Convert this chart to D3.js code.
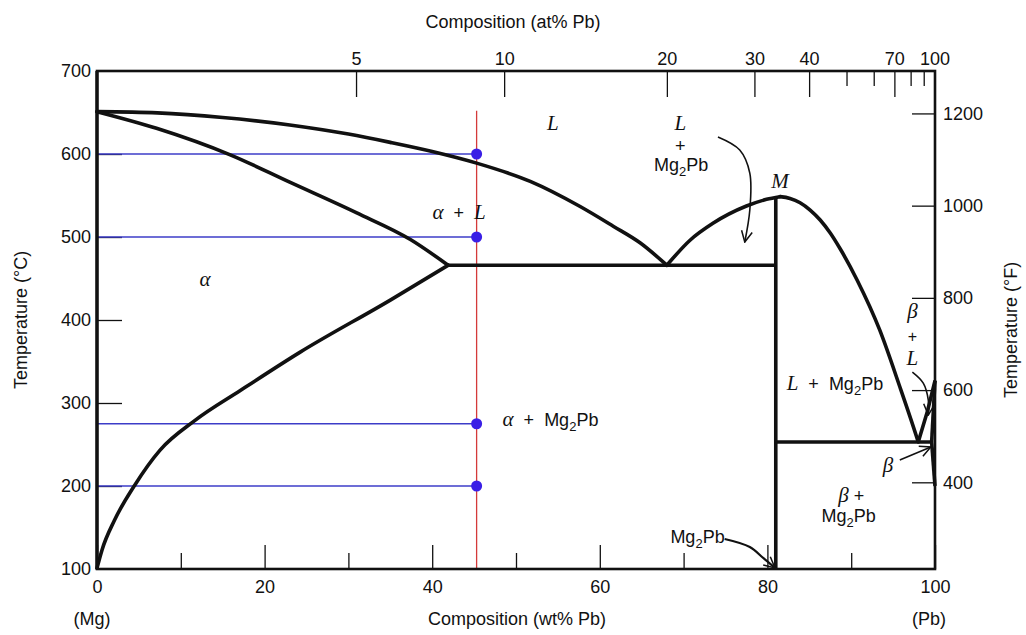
<!DOCTYPE html>
<html><head><meta charset="utf-8">
<script src="https://cdn.jsdelivr.net/npm/d3@7"></script>
<style>body{margin:0;background:#fff} svg{display:block}</style>
</head><body><svg id="chart" width="1026" height="635"></svg>
<script>
// ---------- data ----------
const tempTicksC = [100, 200, 300, 400, 500, 600, 700];
const tempInnerTicksC = [200, 300, 400, 500, 600];
const tempTicksF = [400, 600, 800, 1000, 1200];
const wtTicksMajor = [0, 20, 40, 60, 80, 100];
const wtTicksMinor = [10, 30, 50, 70, 90];
const atTicksMajor = [5, 10, 20, 30, 40, 70];
const atTicksMinor = [50, 60, 80, 90];
const atTickLabels = [5, 10, 20, 30, 40, 70, 100];

// phase boundaries [wt% Pb, °C]
const liquidusAlpha = [[0,651],[7.2,649.5],[15,644],[23,635],[30,624],[35,614],[40,603],[45.3,589],[51.7,567],[57.6,537],[61.6,513],[64.8,493],[68,466]];
const solidusAlpha = [[0,651],[7.1,631],[15.9,599],[23,566],[31,529],[37.4,497],[41.9,466]];
const solvusAlpha = [[0,101],[0.6,123],[2.1,159],[4.5,201],[7.5,243],[11.7,279],[17.1,315],[24.2,361],[35,424],[41.9,466]];
const liquidusMg2PbLeft = [[68,466],[70.8,496.4],[73.5,516.5],[77.5,537.3],[79.9,545.4],[81.5,548.6]];
const liquidusMg2PbRight = [[81.5,548.6],[82.7,546.5],[83.9,541.3],[85.1,532.5],[86.3,520.5],[87.5,504.8],[88.7,485.5],[90.7,448.2],[93.4,388],[95.8,319.6],[97.8,259.4],[98,253]];
const mg2pbLine = [[81,100],[81,548.6]];
const eutecticAlpha = [[41.9,466],[81,466]];
const eutecticBeta = [[81,253],[99.6,253]];
const liquidusBeta = [[98,253],[99.1,290],[100,327]];
const solidusBeta = [[99.6,253],[100,327]];
const solvusBeta = [[99.6,253],[100,200]];

// overlay: alloy composition and tie temperatures
const alloyWt = 45.3;
const tieTemps = [600, 500, 275, 200];

// annotation arrows [wt, °C]
const arrowLMg2Pb = [[74.1,620.5],[76.7,604.8],[77.9,577],[77.9,532.5],[77.3,494]];
const arrowMg2Pb = [[74.9,136.1],[77.9,126.5],[79.5,113.3],[80.9,101.2]];
const arrowBetaL = [[97.3,337.3],[98.6,324],[99.2,303.6],[99.2,285.5]];
const arrowBeta = [[95.8,231.3],[99.5,247]];

// ---------- setup ----------
const svg = d3.select('#chart');
const L = 97, R = 935, T = 71, B = 569;
const x = d3.scaleLinear().domain([0, 100]).range([L, R]);
const y = d3.scaleLinear().domain([100, 700]).range([B, T]);
const cToF = c => c * 1.8 + 32;
const yF = d3.scaleLinear().domain([cToF(100), cToF(700)]).range([B, T]);
const atToWt = a => { const p = a * 207.2, m = (100 - a) * 24.305; return 100 * p / (p + m); };

const SANS = '"Liberation Sans", Arial, Helvetica, sans-serif';
const SERIF = '"Liberation Serif", "Times New Roman", serif';

// defs: arrowhead
svg.append('defs').append('marker')
  .attr('id', 'ah').attr('viewBox', '0 0 12 12').attr('refX', 11).attr('refY', 6)
  .attr('markerWidth', 13).attr('markerHeight', 13).attr('markerUnits', 'userSpaceOnUse')
  .attr('orient', 'auto')
  .append('path').attr('d', 'M1,1 L11,6 L1,11').attr('fill', 'none').attr('stroke', '#111').attr('stroke-width', 1.4);

// ---------- axes ----------
function styleAxis(g) {
  g.select('.domain').remove();
  g.selectAll('line').attr('stroke', '#111').attr('stroke-width', 1.3);
  g.selectAll('text').attr('fill', '#111').style('font-family', SANS).style('font-size', '18px');
}
// left
svg.append('g').attr('transform', `translate(${L},0)`)
  .call(d3.axisLeft(y).tickValues(tempTicksC).tickSizeInner(-25).tickSizeOuter(0).tickPadding(6))
  .call(styleAxis)
  .call(g => g.selectAll('.tick').filter(d => !tempInnerTicksC.includes(d)).select('line').remove());
// right (°F)
svg.append('g').attr('transform', `translate(${R},0)`)
  .call(d3.axisRight(yF).tickValues(tempTicksF).tickFormat(d3.format('d')).tickSizeInner(-23).tickSizeOuter(0).tickPadding(8))
  .call(styleAxis);
// bottom major
svg.append('g').attr('transform', `translate(0,${B})`)
  .call(d3.axisBottom(x).tickValues(wtTicksMajor).tickSizeInner(-24).tickSizeOuter(0).tickPadding(11))
  .call(styleAxis);
// bottom minor
svg.append('g').attr('transform', `translate(0,${B})`)
  .call(d3.axisBottom(x).tickValues(wtTicksMinor).tickSizeInner(-16).tickSizeOuter(0).tickFormat(''))
  .call(styleAxis);
// top (at%) ticks via conversion to wt% scale
const topG = svg.append('g');
topG.selectAll('line.maj').data(atTicksMajor).join('line').attr('class', 'maj')
  .attr('x1', d => x(atToWt(d))).attr('x2', d => x(atToWt(d)))
  .attr('y1', T).attr('y2', T + 26).attr('stroke', '#111').attr('stroke-width', 1.3);
topG.selectAll('line.min').data(atTicksMinor).join('line').attr('class', 'min')
  .attr('x1', d => x(atToWt(d))).attr('x2', d => x(atToWt(d)))
  .attr('y1', T).attr('y2', T + 15).attr('stroke', '#111').attr('stroke-width', 1.3);
topG.selectAll('text').data(atTickLabels).join('text')
  .attr('x', d => x(atToWt(d))).attr('y', T - 6).attr('text-anchor', 'middle')
  .style('font-family', SANS).style('font-size', '18px').attr('fill', '#111').text(d => d);

// axis titles
const title = (txt, tx, ty, rot) => svg.append('text')
  .attr('transform', `translate(${tx},${ty}) rotate(${rot})`).attr('text-anchor', 'middle')
  .style('font-family', SANS).style('font-size', '18px').attr('fill', '#111').text(txt);
title('Composition (at% Pb)', 513, 28, 0);
title('Composition (wt% Pb)', 517, 625, 0);
title('Temperature (°C)', 27, 320, -90);
title('Temperature (°F)', 1017, 330, -90);
title('(Mg)', x(0) - 5, 625, 0);
title('(Pb)', x(100) - 6, 625, 0);

// ---------- overlay lines (blue/red) ----------
svg.append('line').attr('x1', x(alloyWt)).attr('x2', x(alloyWt)).attr('y1', y(652)).attr('y2', B)
  .attr('stroke', '#d43a3a').attr('stroke-width', 1.3);
svg.selectAll('line.tie').data(tieTemps).join('line').attr('class', 'tie')
  .attr('x1', x(0)).attr('x2', x(alloyWt)).attr('y1', d => y(d)).attr('y2', d => y(d))
  .attr('stroke', '#3c3cc8').attr('stroke-width', 1.3);

// ---------- phase boundaries ----------
const smooth = d3.line().x(d => x(d[0])).y(d => y(d[1])).curve(d3.curveMonotoneX);
const arrowLine = d3.line().x(d => x(d[0])).y(d => y(d[1])).curve(d3.curveCatmullRom.alpha(0.5));
const straight = d3.line().x(d => x(d[0])).y(d => y(d[1]));
const curves = [liquidusAlpha, solidusAlpha, solvusAlpha, liquidusMg2PbLeft, liquidusMg2PbRight];
svg.selectAll('path.curve').data(curves).join('path').attr('class', 'curve')
  .attr('d', smooth).attr('fill', 'none').attr('stroke', '#111').attr('stroke-width', 3.6)
  .attr('stroke-linejoin', 'round').attr('stroke-linecap', 'round');
svg.selectAll('path.str').data([mg2pbLine, eutecticAlpha, eutecticBeta, liquidusBeta, solidusBeta, solvusBeta]).join('path').attr('class', 'str')
  .attr('d', straight).attr('fill', 'none').attr('stroke', '#111').attr('stroke-width', 3.6);

// frame
svg.append('rect').attr('x', L).attr('y', T).attr('width', R - L).attr('height', B - T)
  .attr('fill', 'none').attr('stroke', '#111').attr('stroke-width', 2.6);
svg.append('line').attr('x1', L).attr('x2', L).attr('y1', T).attr('y2', B).attr('stroke', '#111').attr('stroke-width', 3.4);

// dots
svg.selectAll('circle.dot').data(tieTemps).join('circle').attr('class', 'dot')
  .attr('cx', x(alloyWt)).attr('cy', d => y(d)).attr('r', 5.5).attr('fill', '#3a1fe6');

// ---------- arrows ----------
svg.selectAll('path.arr').data([arrowLMg2Pb, arrowMg2Pb, arrowBetaL, arrowBeta]).join('path').attr('class', 'arr')
  .attr('d', arrowLine).attr('fill', 'none').attr('stroke', '#111')
  .attr('stroke-width', (d, i) => i === 1 ? 2.2 : 1.6).attr('marker-end', 'url(#ah)');

// ---------- region labels ----------
function label(parts, wt, temp, anchor, plusSize) {
  const t = svg.append('text').attr('x', x(wt)).attr('y', y(temp)).attr('text-anchor', anchor || 'middle')
    .attr('fill', '#111').style('white-space', 'pre');
  parts.forEach(p => {
    const s = t.append('tspan').text(p[0]);
    if (p[1] === 'i') s.style('font-family', SERIF).style('font-style', 'italic').style('font-size', '21px');
    else if (p[1] === 'sub') s.style('font-family', SANS).style('font-size', '13px').attr('dy', 5);
    else if (p[1] === 'up') s.style('font-family', SANS).style('font-size', '18px').attr('dy', -5);
    else s.style('font-family', SANS).style('font-size', (plusSize || 18) + 'px');
  });
  return t;
}
const MG2PB = [['Mg', 's'], ['2', 'sub'], ['Pb', 'up']];
label([['L', 'i']], 54.4, 629);
label([['L', 'i']], 69.6, 629);
label([['+', 's']], 69.6, 602.4);
label(MG2PB, 69.7, 579.5);
label([['M', 'i']], 81.5, 559);
label([['α', 'i'], ['  +  ', 's'], ['L', 'i']], 43.2, 521.7);
label([['α', 'i']], 12.9, 441);
label([['α', 'i'], ['  +  ', 's']].concat(MG2PB), 48.4, 272.3, 'start');
label([['L', 'i'], ['  +  ', 's']].concat(MG2PB), 82.3, 315.7, 'start');
label([['β', 'i'], [' +', 's']], 90.0, 180.7);
label(MG2PB, 89.7, 156.6);
label([['β', 'i']], 94.4, 216.9);
label([['β', 'i']], 97.3, 402);
label([['+', 's']], 97.3, 373.5, 'middle', 16);
label([['L', 'i']], 97.3, 345.8);
label(MG2PB, 74.9, 131.3, 'end');
</script>
</body></html>
